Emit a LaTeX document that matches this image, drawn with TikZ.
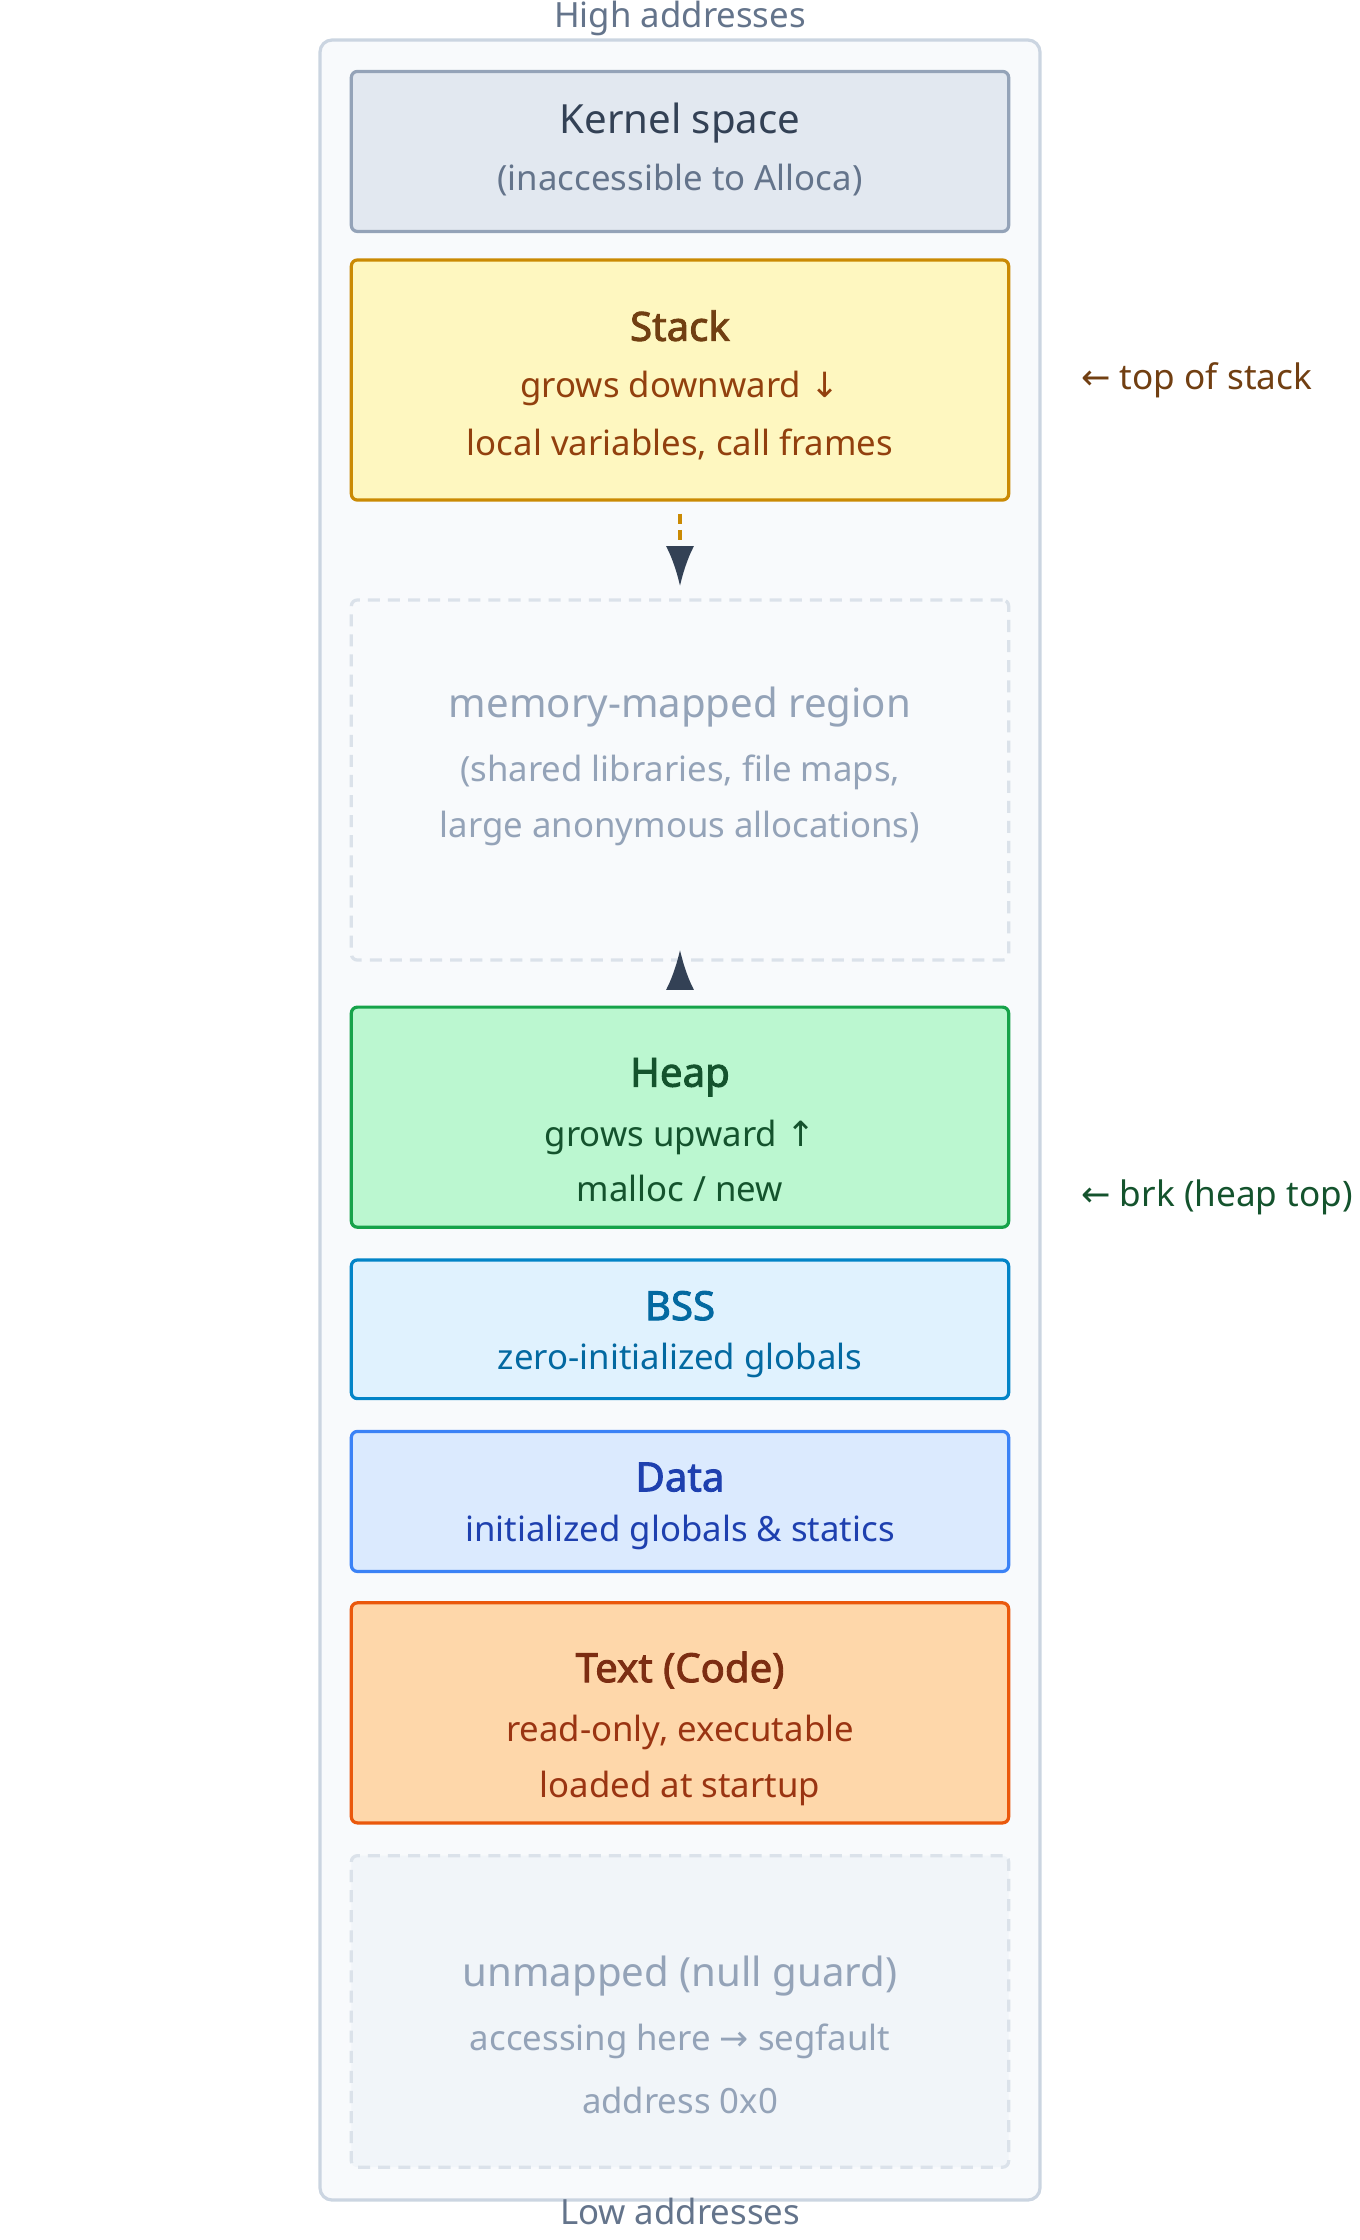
\documentclass[tikz,border=0pt]{standalone}
\usepackage{fontspec}
\setmainfont{Noto Sans}
\newfontfamily\boldsans{Noto Sans}[FakeBold=2.2]
\newfontfamily\symfont{DejaVu Sans}
\usetikzlibrary{arrows.meta}
\definecolor{frame}{HTML}{CBD5E1}
\definecolor{bgpanel}{HTML}{F8FAFC}
\definecolor{muted}{HTML}{64748B}
\definecolor{faint}{HTML}{94A3B8}
\definecolor{arrowdark}{HTML}{334155}
\definecolor{kernelfill}{HTML}{E2E8F0}
\definecolor{guardfill}{HTML}{F1F5F9}
\newcommand{\sym}[1]{{\symfont #1}}

\begin{document}
\begin{tikzpicture}[x=0.025cm, y=-0.025cm,
    seg/.style={draw, line width=1.6pt, rounded corners=3pt, minimum width=11.5cm, inner sep=0pt},
    ghost/.style={seg, draw=frame!70, dashed, dash pattern=on 6pt off 4pt},
    title/.style={font=\fontsize{20}{23}\selectfont},
    head/.style={font=\fontsize{20}{23}\boldsans},
    sub/.style={font=\fontsize{17.3}{20}\selectfont},
    side/.style={font=\fontsize{17.5}{20}\selectfont, anchor=west}]
    \useasboundingbox (0,0) rectangle (952,1568);

    % Outer address space
    \draw[frame, fill=bgpanel, line width=1.6pt, rounded corners=6pt] (224,28) rectangle (728,1540);
    \node[sub, text=muted] (high) at (476,13) {High addresses};
    \node[sub, text=muted] (low) at (476,1548) {Low addresses};

    % Kernel space
    \node[seg, draw=faint, fill=kernelfill, minimum height=2.8cm] (kernel) at (476,106) {};
    \node[title, text=arrowdark] at (476,86) {Kernel space};
    \node[sub, text=muted] at (476,126) {(inaccessible to Alloca)};

    % Stack
    \definecolor{stackfill}{HTML}{FEF7C0}
    \definecolor{stackline}{HTML}{CA8A04}
    \definecolor{stacktext}{HTML}{713F12}
    \definecolor{stacksub}{HTML}{92400E}
    \node[seg, draw=stackline, fill=stackfill, minimum height=4.2cm] (stack) at (476,266) {};
    \node[head, text=stacktext] at (476,228) {Stack};
    \node[sub, text=stacksub] at (476,272) {grows downward \sym{↓}};
    \node[sub, text=stacksub] at (476,311) {local variables, call frames};
    \node[side, text=stacktext] (stacktop) at (752,266) {\sym{←} top of stack};

    % Memory-mapped region
    \node[ghost, fill=bgpanel, minimum height=6.3cm] (mmap) at (476,546) {};
    \node[title, text=faint] at (476,495) {memory-mapped region};
    \node[sub, text=faint] at (476,541) {(shared libraries, file maps,};
    \node[sub, text=faint] at (476,580) {large anonymous allocations)};

    % Heap
    \definecolor{heapfill}{HTML}{BBF7D0}
    \definecolor{heapline}{HTML}{16A34A}
    \definecolor{heaptext}{HTML}{14532D}
    \node[seg, draw=heapline, fill=heapfill, minimum height=3.85cm] (heap) at (476,782) {};
    \node[head, text=heaptext] at (476,754) {Heap};
    \node[sub, text=heaptext] at (476,796) {grows upward \sym{↑}};
    \node[sub, text=heaptext] at (476,832) {malloc / new};
    \node[side, text=heaptext] (brk) at (752,838) {\sym{←} brk (heap top)};

    % Growth arrows
    \draw[stackline, line width=2pt, dash pattern=on 5pt off 3pt, -{Latex[length=20pt,width=14pt,color=arrowdark]},
          shorten <=6pt, shorten >=6pt] (stack.south) -- (mmap.north);
    \draw[heapline, line width=2pt, -{Latex[length=20pt,width=14pt,color=arrowdark]},
          shorten <=9pt, shorten >=-6pt] (heap.north) -- (mmap.south);

    % BSS
    \definecolor{bssfill}{HTML}{E0F2FE}
    \definecolor{bssline}{HTML}{0284C7}
    \definecolor{bsstext}{HTML}{0369A1}
    \node[seg, draw=bssline, fill=bssfill, minimum height=2.425cm] (bss) at (476,930.5) {};
    \node[head, text=bsstext] at (476,914) {BSS};
    \node[sub, text=bsstext] at (476,952) {zero-initialized globals};

    % Data
    \definecolor{datafill}{HTML}{DBEAFE}
    \definecolor{dataline}{HTML}{3B82F6}
    \definecolor{datatext}{HTML}{1E40AF}
    \node[seg, draw=dataline, fill=datafill, minimum height=2.45cm] (data) at (476,1051) {};
    \node[head, text=datatext] at (476,1034) {Data};
    \node[sub, text=datatext] at (476,1073) {initialized globals \& statics};

    % Text segment
    \definecolor{codefill}{HTML}{FED7AA}
    \definecolor{codeline}{HTML}{EA580C}
    \definecolor{codetext}{HTML}{7C2D12}
    \definecolor{codesub}{HTML}{9A3412}
    \node[seg, draw=codeline, fill=codefill, minimum height=3.85cm] (code) at (476,1199) {};
    \node[head, text=codetext] at (476,1169) {Text (Code)};
    \node[sub, text=codesub] at (476,1213) {read-only, executable};
    \node[sub, text=codesub] at (476,1252) {loaded at startup};

    % Unmapped guard
    \node[ghost, fill=guardfill, minimum height=5.45cm] (guard) at (476,1408) {};
    \node[title, text=faint] at (476,1383) {unmapped (null guard)};
    \node[sub, text=faint] at (476,1429) {accessing here \sym{→} segfault};
    \node[sub, text=faint] at (476,1470) {address 0x0};
\end{tikzpicture}
\end{document}
